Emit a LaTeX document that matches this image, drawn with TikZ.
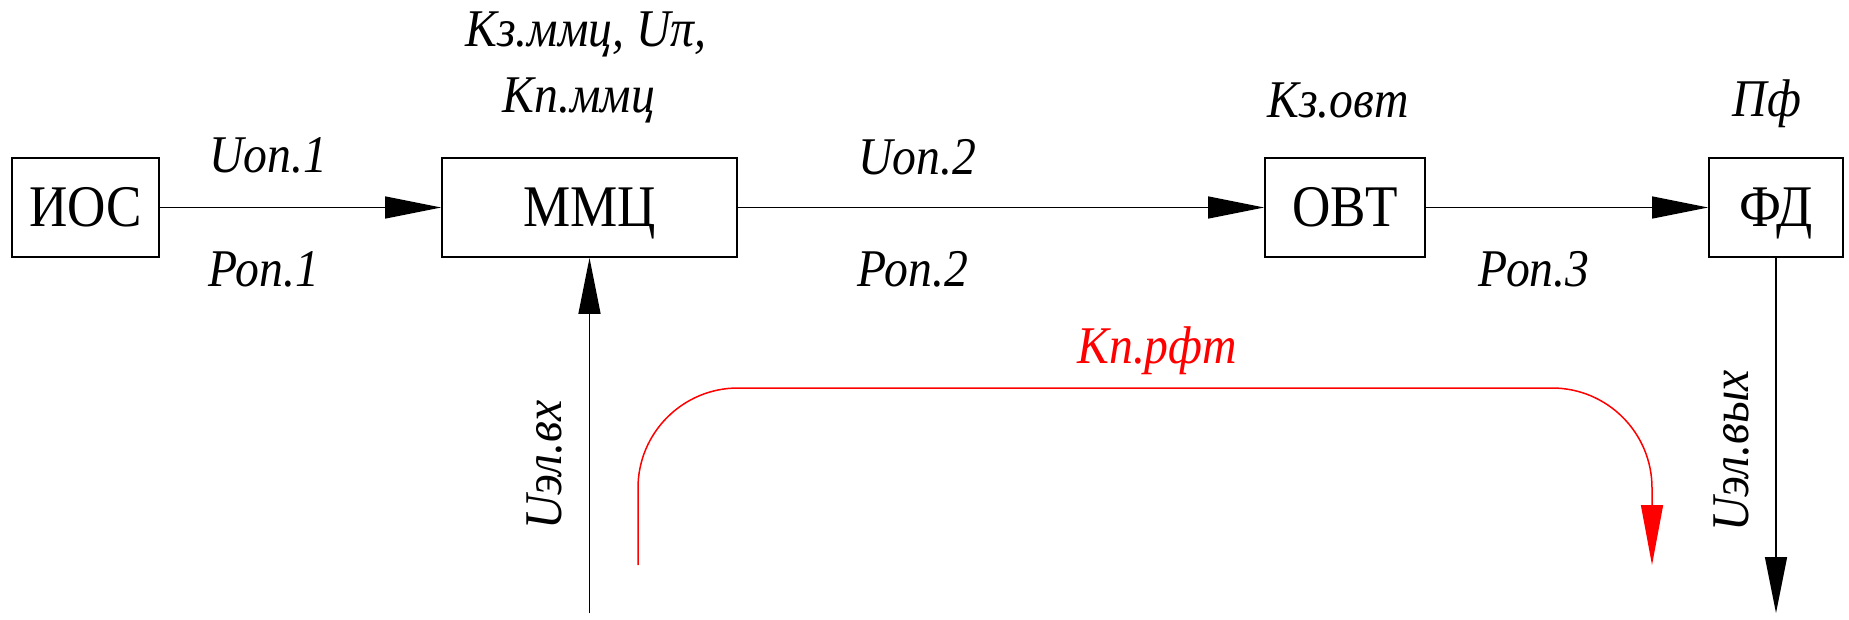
\documentclass[tikz,border=0pt]{standalone}
\usepackage{fontspec}
\setmainfont{Liberation Serif}
\newcommand\cnd[1]{\scalebox{0.9}[1]{#1}}
\usetikzlibrary{arrows.meta}
\begin{document}
\begin{tikzpicture}[x=1pt,y=-1pt]
\tikzset{
  blk/.style={draw, line width=1.8pt, minimum height=99pt, inner sep=0pt,
    text height=39pt, text depth=0pt, font=\fontsize{59}{59}\selectfont},
  lbl/.style={anchor=base, inner sep=0pt, font=\fontsize{53}{53}\selectfont\itshape},
  conn/.style={line width=1.5pt, -{Triangle[length=56pt,width=22pt]}},
  fb/.style={red, line width=1.5pt, rounded corners=100pt, -{Triangle[length=60pt,width=22pt]}}}
\useasboundingbox (0,0) rectangle (1849,620);
\node[blk, minimum width=147pt] (ios) at (85.5,207.5) {\cnd{ИОС}};
\node[blk, minimum width=295pt] (mmc) at (589.5,207.5) {\cnd{ММЦ}};
\node[blk, minimum width=160pt] (ovt) at (1345,207.5) {\cnd{ОВТ}};
\node[blk, minimum width=134pt] (fd) at (1776,207.5) {\cnd{ФД}};
\draw[conn] (ios) -- (mmc);
\draw[conn] (mmc) -- (ovt);
\draw[conn] (ovt) -- (fd);
\coordinate (inp) at (589.5,613);
\draw[conn] (inp) -- (mmc.south);
\coordinate (outp) at (1776,613);
\draw[conn] (fd.south) -- (outp);
\coordinate (rs) at (638,565);
\coordinate (re) at (1652,565);
\draw[fb] (rs) -- (638,388) -- (1652,388) -- (re);
\node[lbl] (l1) at (586,47) {\cnd{Кз.ммц, Uπ,}};
\node[lbl] (l2) at (579,113) {\cnd{Кп.ммц}};
\node[lbl] (l3) at (268,173) {\cnd{Uоп.1}};
\node[lbl] (l4) at (264,287) {\cnd{Роп.1}};
\node[lbl] (l5) at (917,175) {\cnd{Uоп.2}};
\node[lbl] (l6) at (913,287) {\cnd{Роп.2}};
\node[lbl] (l7) at (1534,287) {\cnd{Роп.3}};
\node[lbl] (l8) at (1338,118) {\cnd{Кз.овт}};
\node[lbl] (l9) at (1767,117) {\cnd{Пф}};
\node[lbl, text=red] (l10) at (1157,363) {\cnd{Кп.рфт}};
\node[lbl, rotate=90] (l11) at (561,465) {\cnd{Uэл.вх}};
\node[lbl, rotate=90] (l12) at (1748,451) {\cnd{Uэл.вых}};
\end{tikzpicture}
\end{document}
